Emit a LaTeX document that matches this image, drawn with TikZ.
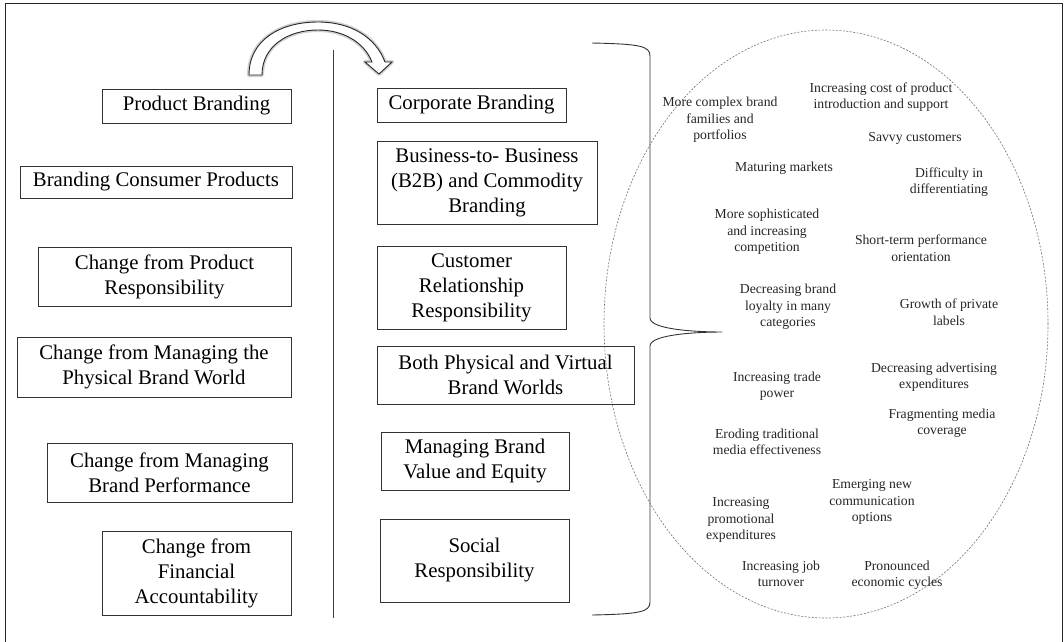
\documentclass[tikz,border=0pt]{standalone}
\usepackage{fontspec}
\setmainfont{Liberation Serif}
\begin{document}
\begin{tikzpicture}[x=1pt,y=-1pt,
  bx/.style={draw=black!80,line width=1pt,inner sep=0pt,align=center,
    font=\fontsize{20.8}{25}\selectfont},
  et/.style={inner sep=0pt,align=center,font=\fontsize{13.7}{16.5}\selectfont,text=black!85},
  ell/.style={draw=black!55,line width=0.6pt,dash pattern=on 2pt off 1.5pt}]
\useasboundingbox (0,0) rectangle (1064,641);
% frame
\draw[line width=1.4pt,black!85] (5.5,660) -- (5.5,3.5) -- (1062.5,3.5) -- (1062.5,660);
% curved hollow arrow
\coordinate (atail) at (255,75);
\path[draw=black!18,line width=4pt,line join=round]
  (249,75) .. controls (249,40) and (280,22) .. (318,22) .. controls (352,22) and (376,38) .. (385,62)
  -- (392,62) -- (379,74) -- (365,62) -- (372,62)
  .. controls (364,42) and (343,30) .. (318,30) .. controls (288,30) and (262,46) .. (262,75) -- cycle;
\path[fill=white,draw=black!85,line width=0.9pt,line join=miter]
  (249,75) .. controls (249,40) and (280,22) .. (318,22) .. controls (352,22) and (376,38) .. (385,62)
  -- (392,62) -- (379,74) -- (365,62) -- (372,62)
  .. controls (364,42) and (343,30) .. (318,30) .. controls (288,30) and (262,46) .. (262,75) -- cycle;
% divider
\coordinate (vtop) at (333,50);
\coordinate (vbot) at (333,618);
\draw[black!75,line width=0.9pt] (vtop) -- (vbot);
% left column
\node[bx,minimum width=189pt,minimum height=34pt] (l1) at (196.5,106) {Product Branding};
\node[bx,minimum width=272pt,minimum height=32pt] (l2) at (156,182) {Branding Consumer Products};
\node[bx,minimum width=253pt,minimum height=59pt] (l3) at (164.5,276.5) {Change from Product\\Responsibility};
\node[bx,minimum width=274pt,minimum height=60pt] (l4) at (154,367) {Change from Managing the\\Physical Brand World};
\node[bx,minimum width=245pt,minimum height=59pt] (l5) at (169.5,472.5) {Change from Managing\\Brand Performance};
\node[bx,minimum width=189pt,minimum height=84pt] (l6) at (196.5,573) {Change from\\Financial\\Accountability};
% middle column
\node[bx,minimum width=189pt,minimum height=34pt] (m1) at (471.5,105) {Corporate Branding};
\node[bx,minimum width=220pt,minimum height=83pt] (m2) at (487,182.5) {Business-to- Business\\(B2B) and Commodity\\Branding};
\node[bx,minimum width=189pt,minimum height=83pt] (m3) at (471.5,287.5) {Customer\\Relationship\\Responsibility};
\node[bx,minimum width=257pt,minimum height=58pt] (m4) at (505.5,375) {Both Physical and Virtual\\Brand Worlds};
\node[bx,minimum width=188pt,minimum height=58pt] (m5) at (475,461) {Managing Brand\\Value and Equity};
\node[bx,minimum width=189pt,minimum height=83pt] (m6) at (474.5,560.5) {Social\\Responsibility};
% brace
\draw[black!80,line width=0.9pt]
  (592,43) .. controls (640,44) and (650,46) .. (650,56) -- (650,318)
  .. controls (650,330) and (700,332) .. (722,332)
  .. controls (700,332) and (650,334) .. (650,346) -- (650,602)
  .. controls (650,612) and (640,614) .. (592,615);
% ellipse
\draw[ell] (826,324) ellipse [x radius=222pt, y radius=294pt];
% factors
\node[et] (e1) at (720,120) {More complex brand\\families and\\portfolios};
\node[et] (e2) at (881,97) {Increasing cost of product\\introduction and support};
\node[et] (e3) at (915,138) {Savvy customers};
\node[et] (e4) at (784,168) {Maturing markets};
\node[et] (e5) at (949,182) {Difficulty in\\differentiating};
\node[et] (e6) at (767,232) {More sophisticated\\and increasing\\competition};
\node[et] (e7) at (921,248) {Short-term performance\\orientation};
\node[et] (e8) at (788,307) {Decreasing brand\\loyalty in many\\categories};
\node[et] (e9) at (949,312) {Growth of private\\labels};
\node[et] (e10) at (777,386) {Increasing trade\\power};
\node[et] (e11) at (934,377) {Decreasing advertising\\expenditures};
\node[et] (e12) at (942,423) {Fragmenting media\\coverage};
\node[et] (e13) at (767,442) {Eroding traditional\\media effectiveness};
\node[et] (e14) at (872,502) {Emerging new\\communication\\options};
\node[et] (e15) at (741,520) {Increasing\\promotional\\expenditures};
\node[et] (e16) at (781,574) {Increasing job\\turnover};
\node[et] (e17) at (897,575) {Pronounced\\economic cycles};
\end{tikzpicture}
\end{document}
